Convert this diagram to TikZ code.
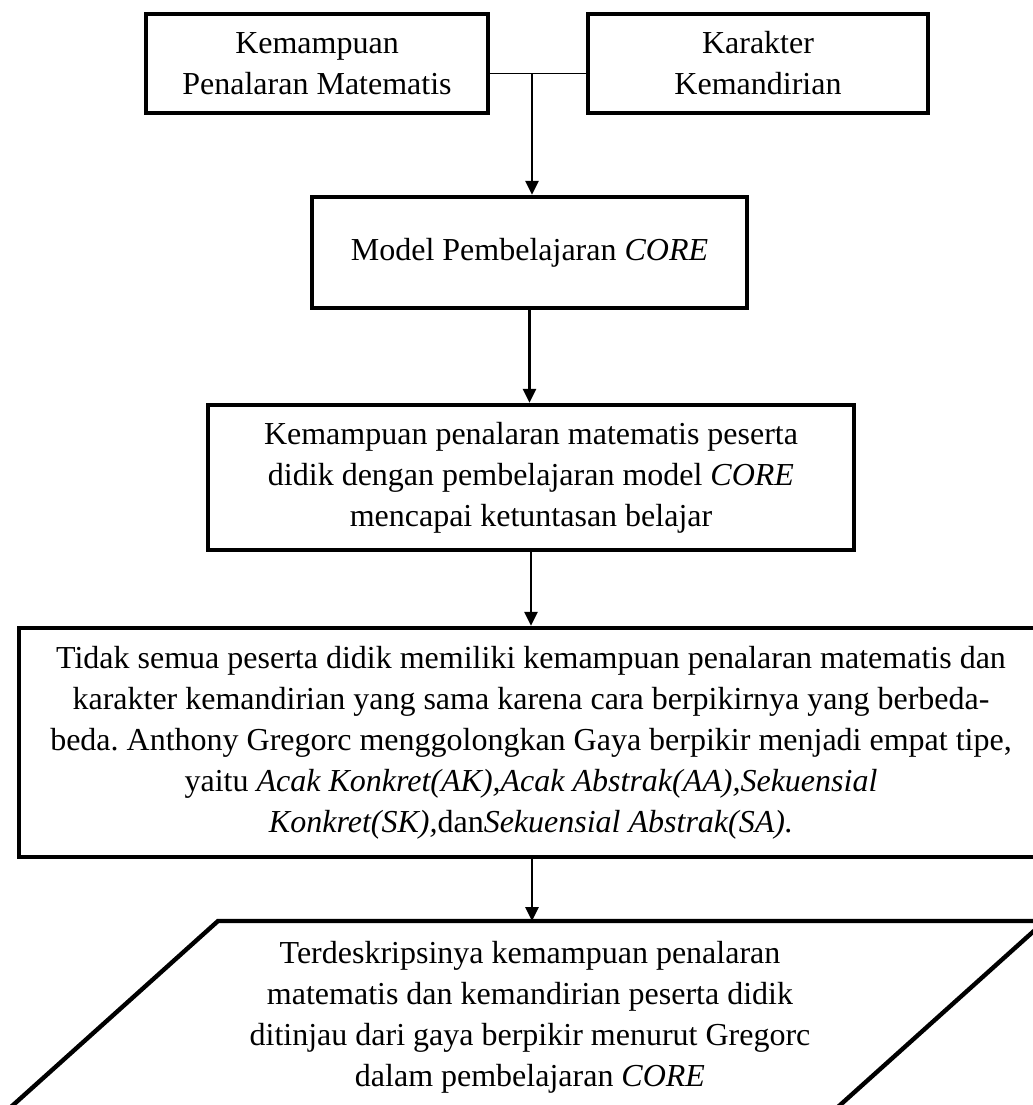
\documentclass[tikz,border=0pt]{standalone}
\usepackage{fontspec}
\setmainfont{Liberation Serif}
\usetikzlibrary{arrows.meta}
\frenchspacing

\begin{document}
\begin{tikzpicture}[x=0.5pt, y=-0.5pt,
  box/.style={rectangle, draw, line width=2.2pt, align=center, inner sep=2pt,
    font=\fontsize{16pt}{20.5pt}\selectfont},
  flow/.style={line width=1.3pt, -{Triangle[length=7pt,width=6.5pt]}},
  txt/.style={align=center, inner sep=0pt, font=\fontsize{16pt}{20.5pt}\selectfont}]
\useasboundingbox (0,0) rectangle (1033,1105);
\clip (0,0) rectangle (1033,1105);
% ---------------- top row: the two variables ----------------
\node[box, minimum width=171pt, minimum height=49.5pt] (kpm) at (317,63.5)
  {Kemampuan\\Penalaran Matematis};
\node[box, minimum width=170pt, minimum height=49.5pt] (kk) at (758,63.5)
  {Karakter\\Kemandirian};
\draw[line width=0.8pt] ([yshift=-5pt]kpm.east) -- ([yshift=-5pt]kk.west);
\coordinate (j) at (532,73);
% ---------------- model and result ----------------
\node[box, minimum width=217.5pt, minimum height=55.5pt] (model) at (529.5,252.5)
  {Model Pembelajaran \textit{CORE}};
\node[box, minimum width=323pt, minimum height=72.5pt] (tuntas) at (531,477.5)
  {Kemampuan penalaran matematis peserta\\
   didik dengan pembelajaran model \textit{CORE}\\
   mencapai ketuntasan belajar};
\draw[flow] (j) -- (j |- model.north);
\draw[flow] (model.south) -- (model.south |- tuntas.north);
% ---------------- Gregorc thinking styles ----------------
\node[box, minimum width=512pt, minimum height=114.5pt] (gaya) at (531,742.5)
  {Tidak semua peserta didik memiliki kemampuan penalaran matematis dan\\
   karakter kemandirian yang sama karena cara berpikirnya yang berbeda-\\
   beda. Anthony Gregorc menggolongkan Gaya berpikir menjadi empat tipe,\\
   yaitu \textit{Acak Konkret(AK),Acak Abstrak(AA),Sekuensial}\\
   \textit{Konkret(SK),}dan\textit{Sekuensial Abstrak(SA).}};
\draw[flow] (tuntas.south) -- (tuntas.south |- gaya.north);
% ---------------- output (parallelogram, cut off by the page) ----------------
\draw[line width=2.2pt] (218,921) -- (1045,921) -- (829,1115) -- (2,1115) -- cycle;
\coordinate (ftop) at (532,921);
\node[txt] (output) at (530,1017)
  {Terdeskripsinya kemampuan penalaran\\
   matematis dan kemandirian peserta didik\\
   ditinjau dari gaya berpikir menurut Gregorc\\
   dalam pembelajaran \textit{CORE}};
\draw[flow] (gaya.south -| ftop) -- (ftop);
\end{tikzpicture}
\end{document}
